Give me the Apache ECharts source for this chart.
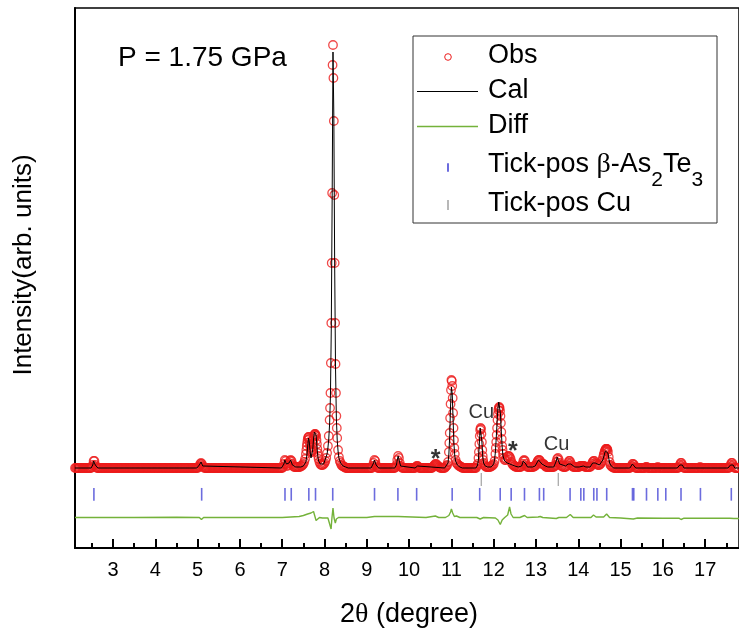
<!DOCTYPE html>
<html><head><meta charset="utf-8">
<script src="https://cdn.jsdelivr.net/npm/echarts@6/dist/echarts.min.js"></script>
<style>html,body{margin:0;padding:0;background:#fff}#c{width:739px;height:634px}</style>
</head><body><div id="c"></div>
<script>
// ---------- data ----------
const xTickLabels = [3,4,5,6,7,8,9,10,11,12,13,14,15,16,17];
const xMinorTicks = [2.5,3.5,4.5,5.5,6.5,7.5,8.5,9.5,10.5,11.5,12.5,13.5,14.5,15.5,16.5,17.5];

// observed intensity on a 0.02 deg grid starting at 2.10 deg (one row per degree)
const obsStart = 2.10, obsStep = 0.02;
const obsRows = [
 [0,0,0,0,0,0,0,0,0,0, 0,0,0,0,0,0,0,0,0,0, 1,3,7,7,3,1,0,0,0,0, 0,0,0,0,0,0,0,0,0,0, 0,0,0,0,0,0,0,0,0,0], // 2.10
 [0,0,0,0,0,0,0,0,0,0, 0,0,0,0,0,0,0,0,0,0, 0,0,0,0,0,0,0,0,0,0, 0,0,0,0,0,0,0,0,0,0, 0,0,0,0,0,0,0,0,0,0], // 3.10
 [0,0,0,0,0,0,0,0,0,0, 0,0,0,0,0,0,0,0,0,0, 0,0,0,0,0,0,0,0,0,0, 0,0,0,0,0,0,0,0,0,0, 0,0,0,0,0,0,1,2,4,5], // 4.10
 [4,2,1,0,0,0,0,0,0,0, 0,0,0,0,0,0,0,0,0,0, 0,0,0,0,0,0,0,0,0,0, 0,0,0,0,0,0,0,0,0,0, 0,0,0,0,0,0,0,0,0,0], // 5.10
 [0,0,0,0,0,0,0,0,0,0, 0,0,0,0,0,0,0,0,0,0, 0,0,0,0,0,0,0,0,0,0, 0,0,0,0,0,0,0,0,0,0, 0,0,0,0,0,0,1,4,8,7], // 6.10
 [4,2,3,5,7,8,7,4,2,1, 1,1,1,1,1,1,1,2,2,3, 4,6,9,14,22,28,31,29,23,17, 16,21,29,33,34,32,24,15,9,6, 4,3,3,3,4,5,7,10,15,22], // 7.10
 [32,48,75,145,275,423,347,205,104,52, 30,18,11,7,5,3,2,2,1,1, 0,0,0,0,0,0,0,0,0,0, 0,0,0,0,0,0,0,0,0,0, 0,0,0,0,0,0,0,0,0,0], // 8.10
 [0,0,2,5,8,7,3,1,0,0, 0,0,0,0,0,0,0,0,0,0, 0,0,0,0,0,0,0,0,0,1, 3,8,12,10,5,2,1,0,0,0, 0,0,0,0,0,0,0,0,0,0], // 9.10
 [0,0,0,1,2,2,1,0,0,0, 0,0,0,0,0,0,0,0,0,0, 0,0,0,1,2,3,4,4,3,2, 1,1,0,0,0,0,0,0,1,2, 3,6,16,35,64,88,82,55,28,14], // 10.10
 [8,5,4,3,2,2,1,1,0,0, 0,0,0,0,0,0,0,0,0,0, 0,0,0,0,0,2,4,10,24,38, 39,26,12,5,3,2,1,1,1,1, 1,1,2,2,3,4,7,14,26,40], // 11.10
 [54,60,60,52,36,22,14,10,8,8, 9,11,12,12,11,9,6,4,3,2, 2,1,1,1,1,1,1,1,2,4, 7,8,7,4,2,1,1,1,1,1, 1,1,1,2,2,3,5,7,8,8], // 12.10
 [7,5,4,4,4,3,2,1,1,1, 1,1,1,1,1,1,1,2,3,6, 9,10,8,5,3,2,2,1,1,1, 1,2,3,5,7,7,5,3,2,1, 1,1,1,1,1,1,1,2,2,2], // 13.10
 [2,2,2,1,1,1,1,1,1,1, 2,4,6,7,7,5,4,4,3,3, 3,4,5,7,10,13,16,18,19,19, 16,11,6,3,2,1,1,0,0,0, 0,0,0,0,0,0,0,0,0,0], // 14.10
 [0,0,0,0,0,0,0,1,2,4, 4,3,1,0,0,0,0,0,0,0, 0,0,0,0,0,1,1,0,0,0, 0,0,0,0,0,0,0,0,0,1, 0,0,0,0,0,0,0,0,0,0], // 15.10
 [0,0,0,0,0,0,0,0,0,0, 0,0,0,0,1,3,5,5,3,1, 0,0,0,0,0,0,0,0,0,0, 0,0,0,0,0,0,0,0,0,1, 0,0,0,0,0,0,0,0,0,0], // 16.10
 [0,0,0,0,0,0,0,0,0,0, 0,0,0,0,0,0,0,0,0,0, 0,0,0,0,1,3,5,5,3,1, 0,0,0,0,0,0]                                 // 17.10
];
// extra observed points recorded at odd hundredths across the strongest peaks [2theta, intensity]
const obsPeakPoints = [
 [7.57,18],[7.59,25],[7.61,30],[7.63,31],[7.65,26],[7.67,20],[7.69,16],[7.71,18],[7.73,25],[7.75,31],[7.77,34],[7.79,33],[7.81,28],[7.83,19],[7.85,12],
 [8.13,60],[8.15,105],[8.17,205],[8.19,403],[8.21,390],[8.23,273],[8.25,145],[8.27,75],[8.29,40],
 [10.95,25],[10.97,50],[10.99,78],[11.01,87],[11.03,70],[11.05,40],[11.07,20],
 [11.65,16],[11.67,32],[11.69,40],[11.71,34],[11.73,18],[11.75,8],
 [12.05,20],[12.07,33],[12.09,48],[12.11,58],[12.13,61],[12.15,57],[12.17,45],[12.19,29],[12.21,18],
 [14.61,14],[14.63,17],[14.65,19],[14.67,19],[14.69,18]
];

// calculated profile [2theta, intensity]
const calPoints = [
 [2.10,0],[2.48,0],[2.50,1],[2.52,3],[2.54,7],[2.56,7],[2.58,3],[2.60,1],[2.64,0],
 [4.98,0],[5.02,1],[5.04,3],[5.06,5],[5.08,6],[5.10,4],[5.12,2],[5.16,0],
 [6.98,0],[7.02,1],[7.04,4],[7.06,8],[7.08,7],[7.10,4],[7.12,3],[7.14,3],[7.16,5],[7.18,7],[7.20,8],[7.22,6],[7.24,3],[7.26,1],[7.32,1],[7.44,1],[7.50,2],[7.54,4],[7.56,6],[7.58,12],[7.60,21],[7.62,30],[7.64,26],[7.66,16],[7.68,10],[7.70,11],[7.72,18],[7.74,29],[7.76,36],[7.78,38],[7.80,33],[7.82,22],[7.84,12],[7.86,7],[7.88,5],[7.90,4],[7.94,3],[7.98,4],[8.02,6],[8.06,14],[8.08,20],[8.10,29],[8.12,44],[8.14,72],[8.16,140],[8.18,268],[8.20,416],[8.22,352],[8.24,202],[8.26,100],[8.28,50],[8.30,28],[8.32,17],[8.34,10],[8.38,5],[8.44,2],[8.50,1],[8.56,0],
 [9.10,0],[9.14,2],[9.16,5],[9.18,8],[9.20,7],[9.22,3],[9.24,1],[9.28,0],
 [9.66,0],[9.70,3],[9.72,8],[9.74,12],[9.76,10],[9.78,5],[9.80,2],[9.84,0],
 [10.14,0],[10.18,2],[10.20,2],[10.24,0],
 [10.84,0],[10.88,2],[10.92,5],[10.94,14],[10.96,32],[10.98,62],[11.00,81],[11.02,74],[11.04,48],[11.06,24],[11.08,12],[11.10,7],[11.14,3],[11.20,1],[11.26,0],
 [11.58,0],[11.62,3],[11.64,9],[11.66,24],[11.68,40],[11.70,41],[11.72,27],[11.74,12],[11.76,5],[11.80,2],[11.86,1],[11.94,1],[11.98,3],[12.00,4],[12.02,8],[12.04,16],[12.06,30],[12.08,46],[12.10,60],[12.12,66],[12.14,65],[12.16,54],[12.18,36],[12.20,21],[12.22,12],[12.26,7],[12.32,5],[12.38,4],[12.44,3],[12.50,2],[12.58,1],
 [12.66,2],[12.68,4],[12.70,7],[12.72,8],[12.74,7],[12.76,4],[12.80,1],[12.92,1],[12.98,2],[13.02,5],[13.04,7],[13.06,8],[13.08,8],[13.10,7],[13.14,4],[13.18,4],[13.22,2],[13.28,1],[13.42,1],[13.46,3],[13.48,7],[13.50,11],[13.52,12],[13.54,9],[13.56,4],[13.60,2],[13.70,2],[13.74,3],[13.76,4],[13.78,5],[13.80,5],[13.82,4],[13.86,2],[13.92,1],[14.02,1],[14.06,2],[14.12,2],[14.18,1],[14.28,1],[14.32,3],[14.34,5],[14.36,7],[14.38,7],[14.40,5],[14.44,3],[14.50,3],[14.54,4],[14.58,8],[14.62,14],[14.64,17],[14.66,18],[14.68,18],[14.70,15],[14.72,10],[14.74,5],[14.78,2],[14.84,0],
 [15.22,0],[15.26,2],[15.28,4],[15.30,4],[15.32,3],[15.36,0],
 [16.34,0],[16.38,1],[16.40,3],[16.42,5],[16.44,5],[16.46,3],[16.50,0],
 [17.54,0],[17.58,1],[17.60,3],[17.62,5],[17.64,5],[17.66,3],[17.70,0],[17.80,0]
];

// difference curve (offset below the pattern) [2theta, intensity]
const diffPoints = [
 [2.10,-49.5],[2.50,-49.5],[2.54,-48],[2.58,-49.5],[3.50,-49.5],[4.50,-49.2],[5.04,-49.5],[5.09,-51.5],[5.14,-49.5],[6.50,-49.5],[7.00,-49.5],[7.20,-49],[7.40,-48.5],[7.50,-47.5],[7.60,-46],[7.68,-45],[7.74,-43.5],[7.77,-48],[7.80,-52.5],[7.83,-50.5],[7.88,-49.5],[7.95,-50],[8.02,-50],[8.08,-50],[8.12,-52],[8.155,-61],[8.175,-50],[8.20,-40],[8.225,-50],[8.255,-55],[8.28,-51],[8.33,-49.5],
 [9.00,-49.5],[9.18,-48.5],[9.22,-49.5],[9.74,-48.5],[9.78,-49.5],[10.40,-49.5],[10.62,-48],[10.70,-49.5],[10.86,-49.5],[10.94,-47.5],[10.98,-44],[11.00,-41],[11.03,-45],[11.07,-48.5],[11.12,-48],[11.20,-49.5],[11.60,-49.5],[11.68,-51],[11.72,-50.5],[11.76,-49.5],
 [12.04,-50],[12.10,-52],[12.155,-56.5],[12.20,-52],[12.26,-49.5],[12.33,-47],[12.375,-39],[12.41,-46],[12.46,-49.5],[12.62,-49.5],[12.73,-47.5],[12.79,-49.5],[13.05,-49],[13.10,-48.5],[13.16,-49.5],[13.48,-50.5],[13.54,-49.5],[13.72,-49.5],[13.81,-46.5],[13.88,-49.5],
 [14.30,-49.5],[14.36,-47],[14.42,-49],[14.60,-49],[14.67,-46],[14.74,-49.5],[15.00,-50],[15.30,-51],[15.40,-50],[16.00,-50.2],[16.38,-50.2],[16.43,-51.5],[16.50,-50.2],[17.00,-50.2],[17.58,-50.2],[17.62,-51.5],[17.68,-50.5],[17.80,-50.5]
];

// Bragg reflection positions
const phaseTicks = [2.547,5.095,7.065,7.213,7.629,7.787,8.194,9.182,9.735,10.178,11.018,11.669,12.154,12.413,12.728,13.081,13.182,13.806,14.060,14.131,14.366,14.441,14.672,15.281,15.312,15.613,15.881,16.069,16.429,16.888,17.618];
const cuTicks = [11.707,13.528];

// peak annotations
const annotX = [10.625, 11.707, 12.453, 13.488];
const annotY = [8, 55.5, 16, 24];
const annotText = ['*','Cu','*','Cu'];

// ---------- build ----------
const phaseTickLevel = -26.3, cuTickLevel = -11.5;
const obsData = [];
obsRows.flat().forEach((v, i) => obsData.push([+(obsStart + obsStep * i).toFixed(2), v]));
obsPeakPoints.forEach(p => obsData.push(p));

const FONT = '"Liberation Sans", Arial, sans-serif';
const RED = '#ec1c1c';
const GREEN = '#74b23a';
const chart = echarts.init(document.getElementById('c'), null, {renderer: 'canvas'});
chart.setOption({
  animation: false,
  grid: {left: 75, right: -3, top: 8, bottom: 86, show: true, borderColor: '#000', borderWidth: 1.5},
  xAxis: [
    {type: 'value', min: 2.1, max: 17.8, position: 'bottom',
     axisLine: {show: true, onZero: false, lineStyle: {color: '#000', width: 2}},
     axisTick: {show: true, inside: true, length: 9, lineStyle: {color: '#000', width: 2}, customValues: xTickLabels},
     axisLabel: {show: true, customValues: xTickLabels, fontSize: 20, color: '#000', margin: 12, fontFamily: FONT},
     splitLine: {show: false}},
    {type: 'value', min: 2.1, max: 17.8, position: 'bottom',
     axisLine: {show: false, onZero: false},
     axisTick: {show: true, inside: true, length: 5, lineStyle: {color: '#000', width: 2}, customValues: xMinorTicks},
     axisLabel: {show: false}, splitLine: {show: false}}
  ],
  yAxis: {type: 'value', min: -80, max: 460,
    axisLine: {show: true, onZero: false, lineStyle: {color: '#000', width: 2}},
    axisTick: {show: false}, axisLabel: {show: false}, splitLine: {show: false}},
  series: [
    {name: 'Obs', type: 'scatter', data: obsData, symbol: 'circle', symbolSize: 8.5, silent: true, z: 2,
     itemStyle: {color: 'rgba(0,0,0,0)', borderColor: RED, borderWidth: 1.3}},
    {name: 'Cal', type: 'line', data: calPoints, showSymbol: false, silent: true, z: 3,
     lineStyle: {color: '#000', width: 1}},
    {name: 'Diff', type: 'line', data: diffPoints, showSymbol: false, silent: true, z: 3,
     lineStyle: {color: GREEN, width: 1.4}},
    {name: 'Tick-pos As2Te3', type: 'scatter', data: phaseTicks.map(x => [x, phaseTickLevel]),
     symbol: 'rect', symbolSize: [1.6, 12.7], silent: true, itemStyle: {color: '#4747d6'}},
    {name: 'Tick-pos Cu', type: 'scatter', data: cuTicks.map(x => [x, cuTickLevel]),
     symbol: 'rect', symbolSize: [1.4, 13], silent: true, itemStyle: {color: '#9a9a9a'}},
    {name: 'annot', type: 'scatter', data: annotX.map((x, i) => [x, annotY[i], annotText[i]]),
     symbolSize: 0, silent: true, z: 5, itemStyle: {color: '#000'},
     label: {show: true, position: 'inside', fontSize: 20, color: '#000', fontFamily: FONT,
       textBorderWidth: 0, textBorderColor: 'transparent',
       formatter: p => p.data[2] === '*' ? '{s|*}' : p.data[2],
       rich: {s: {fontSize: 25, fontWeight: 'bold', color: '#000', fontFamily: FONT, textBorderWidth: 0}}}}
  ],
  graphic: [
    {type: 'text', x: 118, y: 58, style: {text: 'P = 1.75 GPa', font: '28px ' + FONT, fill: '#000', align: 'left', verticalAlign: 'middle'}},
    {type: 'text', x: 409, y: 615, style: {text: '2{t|θ} (degree)', font: '27px ' + FONT, fill: '#000', align: 'center', verticalAlign: 'middle',
      rich: {t: {fontFamily: '"Liberation Serif", serif', fontSize: 28}}}},
    {type: 'text', x: 24, y: 265, rotation: Math.PI / 2, style: {text: 'Intensity(arb. units)', font: '26px ' + FONT, fill: '#000', align: 'center', verticalAlign: 'middle'}},
    {type: 'rect', shape: {x: 413, y: 36, width: 304, height: 187}, style: {fill: 'none', stroke: '#333', lineWidth: 1}},
    {type: 'circle', shape: {cx: 448, cy: 57, r: 3.3}, style: {fill: 'none', stroke: RED, lineWidth: 1}},
    {type: 'line', shape: {x1: 417, y1: 91.5, x2: 478, y2: 91.5}, style: {stroke: '#000', lineWidth: 1}},
    {type: 'line', shape: {x1: 417, y1: 126.5, x2: 478, y2: 126.5}, style: {stroke: GREEN, lineWidth: 1.3}},
    {type: 'rect', shape: {x: 447.2, y: 163.3, width: 1.6, height: 8.5}, style: {fill: '#4747d6'}},
    {type: 'rect', shape: {x: 447.3, y: 200, width: 1.4, height: 10}, style: {fill: '#9a9a9a'}},
    {type: 'text', x: 488, y: 56, style: {text: 'Obs', font: '27px ' + FONT, fill: '#000', verticalAlign: 'middle'}},
    {type: 'text', x: 488, y: 91, style: {text: 'Cal', font: '27px ' + FONT, fill: '#000', verticalAlign: 'middle'}},
    {type: 'text', x: 488, y: 126, style: {text: 'Diff', font: '27px ' + FONT, fill: '#000', verticalAlign: 'middle'}},
    {type: 'text', x: 488, y: 165, style: {text: 'Tick-pos {b|β}-As{s|2}Te{s|3}', font: '27px ' + FONT, fill: '#000', verticalAlign: 'middle', lineHeight: 51,
      rich: {b: {fontFamily: '"Liberation Serif", serif', fontSize: 28, lineHeight: 51}, s: {fontSize: 21, lineHeight: 21, verticalAlign: 'bottom'}}}},
    {type: 'text', x: 488, y: 204, style: {text: 'Tick-pos Cu', font: '27px ' + FONT, fill: '#000', verticalAlign: 'middle'}}
  ]
});
</script>
</body></html>
